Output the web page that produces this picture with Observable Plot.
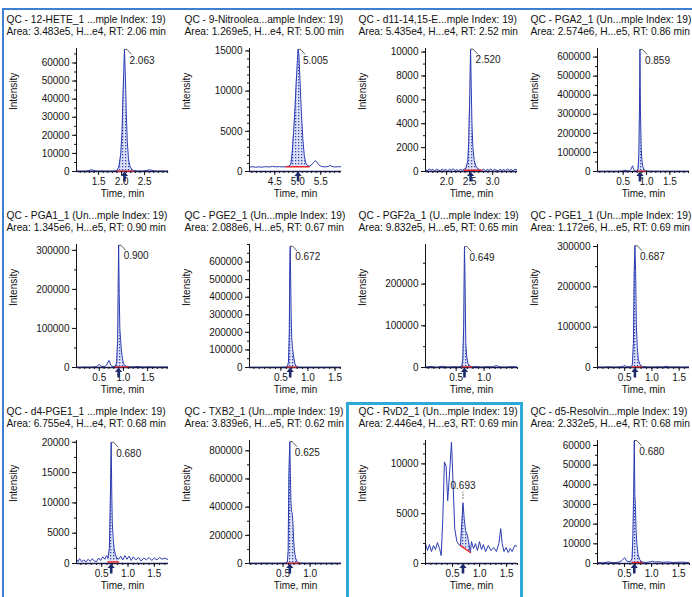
<!DOCTYPE html>
<html><head><meta charset="utf-8">
<script src="https://cdn.jsdelivr.net/npm/d3@7"></script>
<script src="https://cdn.jsdelivr.net/npm/@observablehq/plot@0.6"></script>
<style>
html,body{margin:0;padding:0;background:#fff;overflow:hidden;}
#root{position:relative;width:692px;height:597px;overflow:hidden;background:#fff;font-family:"Liberation Sans",Arial,sans-serif;}
.cell{position:absolute;width:172px;height:190px;}
.cell svg{max-width:none !important;display:block;}
#frameTop{position:absolute;left:2px;top:8px;width:690px;height:2px;background:#3f7fd2;}
#frameLeft{position:absolute;left:2px;top:8px;width:2px;height:589px;background:#3f7fd2;}
#hl{position:absolute;left:346px;top:402px;width:171px;height:200px;border:3px solid #2ea9da;}
</style></head><body>
<svg width="0" height="0" style="position:absolute"><defs>
<pattern id="dots" width="3" height="3" patternUnits="userSpaceOnUse">
<rect width="3" height="3" fill="#dde2f7"/><rect x="0" y="0" width="1.3" height="1.3" fill="#3447b0"/>
</pattern></defs></svg>
<div id="root"><div id="frameTop"></div><div id="frameLeft"></div></div>
<script>
// ---------- data ----------
const titles1 = [
 "QC - 12-HETE_1 ...mple Index: 19)","QC - 9-Nitroolea...ample Index: 19)","QC - d11-14,15-E...mple Index: 19)","QC - PGA2_1 (Un...mple Index: 19)",
 "QC - PGA1_1 (Un...mple Index: 19)","QC - PGE2_1 (Un...mple Index: 19)","QC - PGF2a_1 (U...mple Index: 19)","QC - PGE1_1 (Un...mple Index: 19)",
 "QC - d4-PGE1_1 ...mple Index: 19)","QC - TXB2_1 (Un...mple Index: 19)","QC - RvD2_1 (Un...mple Index: 19)","QC - d5-Resolvin...mple Index: 19)"];
const titles2 = [
 "Area: 3.483e5, H...e4, RT: 2.06 min","Area: 1.269e5, H...e4, RT: 5.00 min","Area: 5.435e4, H...e4, RT: 2.52 min","Area: 2.574e6, H...e5, RT: 0.86 min",
 "Area: 1.345e6, H...e5, RT: 0.90 min","Area: 2.088e6, H...e5, RT: 0.67 min","Area: 9.832e5, H...e5, RT: 0.65 min","Area: 1.172e6, H...e5, RT: 0.69 min",
 "Area: 6.755e4, H...e4, RT: 0.68 min","Area: 3.839e6, H...e5, RT: 0.62 min","Area: 2.446e4, H...e3, RT: 0.69 min","Area: 2.332e5, H...e4, RT: 0.68 min"];
const rtLabels = ["2.063","5.005","2.520","0.859","0.900","0.672","0.649","0.687","0.680","0.625","0.693","0.680"];
const labelPlacement = ["side","side","side","side","side","side","side","side","side","side","above","side"];

const xDomains = [[1.02,3.02],[3.95,5.95],[1.54,3.54],[-0.05,1.92],[0.03,1.93],[-0.08,1.62],[-0.05,1.6],[0,1.69],[0.02,1.77],[-0.12,1.58],[0,1.7],[0,1.7]];
const xTicks = [[1.5,2.0,2.5],[4.5,5.0,5.5],[2.0,2.5,3.0],[0.5,1.0,1.5],[0.5,1.0,1.5],[0.5,1.0,1.5],[0.5,1.0],[0.5,1.0,1.5],[0.5,1.0,1.5],[0.5,1.0],[0.5,1.0,1.5],[0.5,1.0,1.5]];
const yMax = [68000,15300,10300,645000,315000,700000,295000,305000,20300,873000,12350,62500];
const yTicks = [
 [0,10000,20000,30000,40000,50000,60000],[0,5000,10000,15000],[0,2000,4000,6000,8000,10000],[0,100000,200000,300000,400000,500000,600000],
 [0,100000,200000,300000],[0,100000,200000,300000,400000,500000,600000],[0,100000,200000],[0,100000,200000,300000],
 [0,5000,10000,15000,20000],[0,200000,400000,600000,800000],[0,5000,10000],[0,10000,20000,30000,40000,50000,60000]];
const yMinorStep = [5000,1000,1000,50000,50000,50000,50000,50000,2500,100000,1000,5000];
const xMinorStep = 0.1;

// integration window (start, end) and baseline levels
const intStart = [1.9,4.74,2.38,0.8,0.83,0.62,0.6,0.64,0.62,0.58,0.647,0.64];
const intEnd   = [2.26,5.25,2.76,0.98,1.1,0.79,0.78,0.82,0.82,0.8,0.83,0.82];
const baseStart = [200,600,100,2000,1500,2000,1500,1500,250,3000,1800,500];
const baseEnd   = [200,600,100,2000,1500,2000,1500,1500,250,3000,1100,500];

const trace_12HETE = [[1.02,300],[1.08,150],[1.15,250],[1.22,200],[1.28,500],[1.33,900],[1.38,700],[1.44,300],[1.5,200],[1.58,300],[1.65,150],[1.72,250],[1.8,200],[1.86,350],[1.9,600],[1.94,2500],[1.98,9000],[2.01,22000],[2.035,45000],[2.063,67500],[2.085,50000],[2.105,30000],[2.125,16000],[2.15,7000],[2.18,3000],[2.22,1200],[2.26,500],[2.32,300],[2.4,250],[2.48,300],[2.55,600],[2.6,900],[2.65,700],[2.72,300],[2.8,200],[2.88,300],[2.95,200],[3.02,250]];
const trace_9Nitro = [[3.95,550],[4.02,600],[4.08,520],[4.15,580],[4.22,540],[4.3,600],[4.38,560],[4.45,620],[4.52,580],[4.6,600],[4.68,560],[4.74,600],[4.8,650],[4.85,900],[4.88,2500],[4.91,5000],[4.94,8000],[4.97,11500],[5.005,15200],[5.025,14500],[5.05,11000],[5.08,7000],[5.11,4000],[5.14,2000],[5.17,1100],[5.21,750],[5.25,650],[5.29,800],[5.34,1100],[5.38,1350],[5.42,1150],[5.47,750],[5.53,600],[5.6,580],[5.66,620],[5.7,750],[5.73,650],[5.8,560],[5.88,600],[5.95,580]];
const trace_d11EET = [[1.54,150],[1.58,60],[1.62,220],[1.66,100],[1.7,180],[1.74,40],[1.78,200],[1.82,120],[1.86,60],[1.9,210],[1.94,90],[1.98,170],[2.02,50],[2.06,190],[2.1,110],[2.14,230],[2.18,80],[2.22,160],[2.26,60],[2.3,180],[2.34,100],[2.38,200],[2.42,260],[2.46,900],[2.48,2500],[2.5,6000],[2.52,10250],[2.535,7000],[2.55,4000],[2.57,2000],[2.6,900],[2.64,400],[2.68,250],[2.72,150],[2.76,80],[2.8,200],[2.84,60],[2.88,170],[2.92,90],[2.96,210],[3.0,70],[3.04,180],[3.08,110],[3.12,40],[3.16,200],[3.2,80],[3.24,170],[3.28,60],[3.32,220],[3.36,100],[3.4,160],[3.44,50],[3.48,190],[3.54,120]];
const trace_PGA2 = [[-0.05,800],[0.05,500],[0.15,1000],[0.25,600],[0.35,900],[0.45,1500],[0.5,3500],[0.54,7000],[0.58,3000],[0.63,2500],[0.67,12000],[0.7,30000],[0.73,9000],[0.76,3000],[0.8,3500],[0.82,15000],[0.835,90000],[0.848,300000],[0.859,640000],[0.87,320000],[0.885,130000],[0.9,60000],[0.92,25000],[0.95,9000],[0.98,4000],[1.02,2000],[1.1,1200],[1.25,800],[1.4,1000],[1.55,600],[1.7,900],[1.85,500],[1.92,700]];
const trace_PGA1 = [[0.03,1000],[0.1,600],[0.2,1200],[0.3,800],[0.4,1500],[0.45,3000],[0.5,8000],[0.54,3000],[0.6,2000],[0.65,6000],[0.7,18000],[0.74,6000],[0.78,2500],[0.83,3000],[0.86,12000],[0.88,70000],[0.89,190000],[0.9,313000],[0.912,190000],[0.925,100000],[0.94,72000],[0.96,40000],[0.98,22000],[1.0,10000],[1.04,4000],[1.1,2000],[1.2,1500],[1.3,2500],[1.4,1200],[1.55,1800],[1.7,1000],[1.85,1500],[1.93,1200]];
const trace_PGE2 = [[-0.08,1000],[0.05,600],[0.2,1200],[0.35,800],[0.5,1500],[0.58,2000],[0.62,4000],[0.64,30000],[0.655,200000],[0.664,530000],[0.672,690000],[0.68,520000],[0.69,300000],[0.7,170000],[0.715,110000],[0.735,60000],[0.76,20000],[0.79,5000],[0.83,2000],[0.9,1000],[1.05,1400],[1.2,800],[1.4,1200],[1.62,900]];
const trace_PGF2a = [[-0.05,1000],[0.05,2500],[0.15,500],[0.25,3000],[0.35,1000],[0.45,2000],[0.55,1500],[0.6,3000],[0.62,20000],[0.635,100000],[0.649,290000],[0.66,200000],[0.672,60000],[0.69,25000],[0.71,10000],[0.74,4000],[0.78,1500],[0.85,2500],[0.95,1000],[1.05,2000],[1.15,1500],[1.22,4500],[1.28,1500],[1.38,1000],[1.48,2000],[1.6,1500]];
const trace_PGE1 = [[0,1500],[0.1,800],[0.2,1800],[0.3,900],[0.4,1500],[0.46,2500],[0.5,5000],[0.54,2000],[0.6,1500],[0.64,6000],[0.66,60000],[0.673,230000],[0.687,302000],[0.7,240000],[0.713,110000],[0.73,50000],[0.75,20000],[0.78,7000],[0.82,2500],[0.9,1500],[1.0,1000],[1.1,1800],[1.2,1200],[1.26,3000],[1.32,1200],[1.45,1500],[1.55,900],[1.69,1400]];
const trace_d4PGE1 = [[0.02,700],[0.05,300],[0.08,800],[0.12,300],[0.16,600],[0.2,250],[0.24,700],[0.28,350],[0.32,800],[0.36,400],[0.4,300],[0.44,900],[0.48,500],[0.52,1100],[0.56,700],[0.59,1300],[0.62,900],[0.645,2500],[0.66,9000],[0.672,15000],[0.68,20000],[0.69,12000],[0.7,7000],[0.715,4500],[0.735,2500],[0.76,1400],[0.79,900],[0.82,700],[0.86,1200],[0.9,600],[0.94,1300],[0.98,700],[1.02,1200],[1.06,500],[1.1,1100],[1.15,600],[1.2,1000],[1.25,400],[1.3,900],[1.35,600],[1.4,1000],[1.45,500],[1.5,900],[1.55,600],[1.6,1000],[1.65,700],[1.7,900],[1.77,600]];
const trace_TXB2 = [[-0.12,2000],[0.0,1000],[0.15,2500],[0.3,1500],[0.45,2000],[0.55,3000],[0.58,10000],[0.595,90000],[0.607,630000],[0.625,865000],[0.635,640000],[0.645,450000],[0.655,370000],[0.667,360000],[0.68,300000],[0.695,170000],[0.71,90000],[0.73,40000],[0.76,12000],[0.8,4000],[0.85,2500],[0.95,1500],[1.1,2500],[1.25,1500],[1.4,2000],[1.58,1500]];
const trace_RvD2 = [[0.0,2000],[0.037,1300],[0.074,1900],[0.11,1200],[0.148,1800],[0.185,1400],[0.22,2100],[0.26,1500],[0.29,800],[0.32,4500],[0.35,10200],[0.38,9800],[0.41,6300],[0.45,9500],[0.48,12200],[0.51,8000],[0.54,3500],[0.58,2200],[0.616,1900],[0.647,1800],[0.67,4000],[0.693,6100],[0.715,4500],[0.74,3300],[0.776,2800],[0.83,1100],[0.85,2200],[0.887,1500],[0.924,2000],[0.96,1300],[0.998,2200],[1.035,1400],[1.07,1900],[1.11,1200],[1.16,1800],[1.21,1300],[1.26,1600],[1.31,1200],[1.355,2000],[1.39,3500],[1.417,2000],[1.45,1200],[1.49,1600],[1.53,1100],[1.565,1500],[1.6,1200],[1.65,1800],[1.7,1700]];
const trace_d5Resolvin = [[0,500],[0.1,300],[0.2,800],[0.3,400],[0.4,700],[0.45,1500],[0.5,3000],[0.54,1200],[0.6,800],[0.64,2500],[0.655,15000],[0.668,36000],[0.68,62500],[0.69,35000],[0.7,30000],[0.712,17000],[0.73,9000],[0.75,4500],[0.78,2000],[0.82,800],[0.9,500],[0.98,900],[1.02,1200],[1.06,700],[1.12,900],[1.2,600],[1.3,800],[1.4,500],[1.55,700],[1.7,500]];
const traces = [trace_12HETE,trace_9Nitro,trace_d11EET,trace_PGA2,trace_PGA1,trace_PGE2,trace_PGF2a,trace_PGE1,trace_d4PGE1,trace_TXB2,trace_RvD2,trace_d5Resolvin];

// ---------- layout ----------
const colX = [5,178,354,526];
const rowY = [10,206,402];
const titleDx = [-70,-65,-67,-67];
const W = 172, H = 190, ML = 71, MR = 9, MT = 38, MB = 29;
const FONT = "'Liberation Sans', Arial, sans-serif";

const arrowSymbol = {draw(ctx){ctx.moveTo(0,-5);ctx.lineTo(3.6,-0.6);ctx.lineTo(1.3,-0.6);ctx.lineTo(1.3,5);ctx.lineTo(-1.3,5);ctx.lineTo(-1.3,-0.6);ctx.lineTo(-3.6,-0.6);ctx.closePath();}};
const sideConnector = {draw(ctx){ctx.moveTo(0,0);ctx.lineTo(2.5,0);ctx.lineTo(7,5);}};
const aboveConnector = {draw(ctx){ctx.moveTo(0,-4);ctx.lineTo(0,-11);}};

function minorTicks(a, b, step){
  const k0 = Math.ceil(a/step - 1e-9), k1 = Math.floor(b/step + 1e-9);
  return d3.range(k0, k1+1).map(k => +(k*step).toFixed(6));
}

function panel(i){
  const col = i % 4, row = Math.floor(i/4);
  const tr = traces[i].map(([t,y]) => ({t, y}));
  const [x0, x1] = xDomains[i];
  const ymax = yMax[i];
  const s = intStart[i], e = intEnd[i], b0 = baseStart[i], b1 = baseEnd[i];
  const areaData = tr.filter(d => d.t >= s - 1e-9 && d.t <= e + 1e-9)
    .map(d => ({t: d.t, y: d.y, b: b0 + (b1 - b0) * (d.t - s) / (e - s)}));
  const rt = +rtLabels[i];
  const apex = d3.least(tr, d => Math.abs(d.t - rt));
  const above = labelPlacement[i] === "above";
  const plot = Plot.plot({
    width: W, height: H, marginLeft: ML, marginRight: MR, marginTop: MT, marginBottom: MB,
    x: {domain: [x0, x1], label: null},
    y: {domain: [0, ymax], label: null},
    style: {fontFamily: FONT, fontSize: "10px", color: "#151515", background: "transparent", overflow: "visible"},
    marks: [
      Plot.areaY(areaData, {x: "t", y1: "b", y2: "y", fill: "url(#dots)", clip: true}),
      Plot.line(tr, {x: "t", y: "y", stroke: "#2b3cb2", strokeWidth: 1, clip: true}),
      Plot.ruleX([x0], {stroke: "#151515", strokeWidth: 1}),
      Plot.ruleY([0], {stroke: "#1b1f55", strokeWidth: 1.4}),
      Plot.line([{t: s, y: b0}, {t: e, y: b1}], {x: "t", y: "y", stroke: "#e8262b", strokeWidth: 1.4}),
      Plot.axisY({ticks: yTicks[i], tickSize: 4, tickPadding: 3, tickFormat: d3.format("d"), label: null}),
      Plot.axisY({ticks: minorTicks(0, ymax, yMinorStep[i]), tickSize: 2, tickFormat: () => "", label: null}),
      Plot.axisX({ticks: xTicks[i], tickSize: 4, tickPadding: 2, tickFormat: d3.format(".1f"), label: null}),
      Plot.axisX({ticks: minorTicks(x0, x1, xMinorStep), tickSize: 2, tickFormat: () => "", label: null}),
      Plot.dot([{t: rt}], {x: "t", frameAnchor: "bottom", dy: 5, symbol: arrowSymbol, r: 4, fill: "#1d2a6b", stroke: "none"}),
      Plot.dot([apex], {x: "t", y: "y", symbol: above ? aboveConnector : sideConnector, r: 4, fill: "none", stroke: "#333", strokeWidth: 0.8, strokeDasharray: above ? "1.6,1.4" : null}),
      Plot.text([apex], {x: "t", y: "y", text: () => rtLabels[i], dx: above ? 0 : 5, dy: above ? -17 : 11, textAnchor: above ? "middle" : "start", fontSize: 10, fill: "#1a1a1a"}),
      Plot.text([titles1[i]], {text: d => d, frameAnchor: "top-left", lineAnchor: "middle", dx: titleDx[col], dy: -29, textAnchor: "start", fontSize: 10.2, fill: "#111"}),
      Plot.text([titles2[i]], {text: d => d, frameAnchor: "top-left", lineAnchor: "middle", dx: titleDx[col], dy: -17, textAnchor: "start", fontSize: 10.2, fill: "#111"}),
      Plot.text(["Intensity"], {text: d => d, frameAnchor: "left", lineAnchor: "middle", dx: -63, rotate: -90, fontSize: 10, fill: "#111"}),
      Plot.text(["Time, min"], {text: d => d, frameAnchor: "bottom", lineAnchor: "middle", dy: 22, fontSize: 10, fill: "#111"})
    ]
  });
  const cell = document.createElement("div");
  cell.className = "cell";
  cell.style.left = colX[col] + "px";
  cell.style.top = rowY[row] + "px";
  cell.appendChild(plot);
  return cell;
}

const root = document.getElementById("root");
for (let i = 0; i < traces.length; i++) root.appendChild(panel(i));
const hl = document.createElement("div");
hl.id = "hl";
root.appendChild(hl);
</script>
</body></html>
